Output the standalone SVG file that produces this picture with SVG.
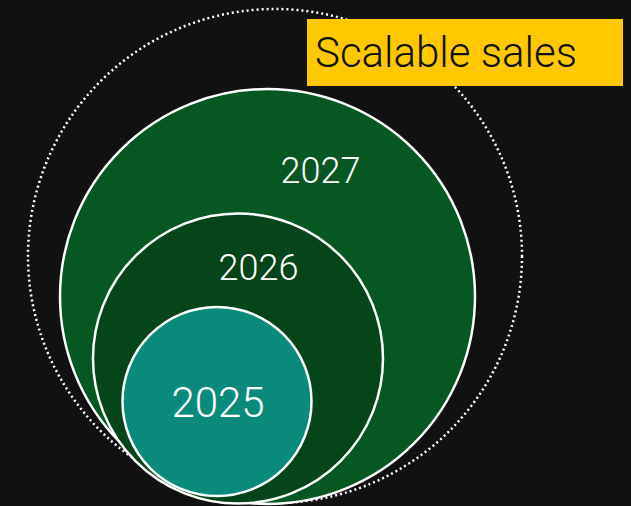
<svg xmlns="http://www.w3.org/2000/svg" width="631" height="506" viewBox="0 0 631 506">
<style>
.ring{stroke:#ffffff;stroke-width:2.5}
.yr{font-family:Roboto,"Liberation Sans",sans-serif;font-weight:300;fill:#ffffff;text-anchor:middle}
.lbl{font-family:Roboto,"Liberation Sans",sans-serif;font-weight:300;fill:#111111}
</style>
<rect x="0" y="0" width="631" height="506" fill="#111111"/>
<g id="scope">
<circle cx="275" cy="256" r="247" fill="none" stroke="#ffffff" stroke-width="2.5" stroke-dasharray="2 3"/>
</g>
<g id="connectors"/>
<g id="y2027">
<circle class="ring" cx="267.5" cy="296.5" r="207.5" fill="#075723"/>
<text class="yr" x="320.5" y="183" font-size="36">2027</text>
</g>
<g id="y2026">
<circle class="ring" cx="238" cy="358.5" r="145" fill="#064419"/>
<text class="yr" x="258.5" y="280" font-size="36">2026</text>
</g>
<g id="y2025">
<circle class="ring" cx="217" cy="401.5" r="94.5" fill="#0a8a7a"/>
<text class="yr" x="218" y="417" font-size="42">2025</text>
</g>
<g id="title">
<rect x="307" y="19" width="316" height="67" fill="#ffc800"/>
<text class="lbl" x="315" y="67" font-size="42">Scalable sales</text>
</g>
</svg>
